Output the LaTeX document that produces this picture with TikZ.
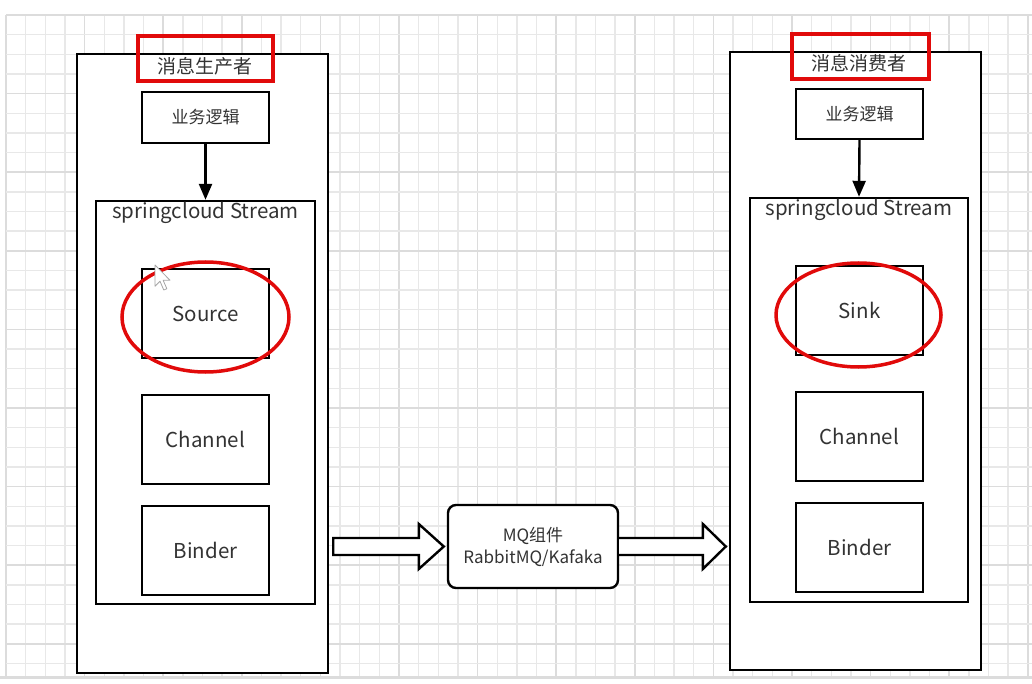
\documentclass[tikz,border=0pt]{standalone}
\usepackage{fontspec}
\setmainfont{Noto Sans CJK SC}
\usetikzlibrary{shapes.geometric,arrows.meta,calc}
\definecolor{gridminor}{HTML}{E8E8E8}
\definecolor{gridmajor}{HTML}{DCDCDC}
\definecolor{txt}{HTML}{333333}
\definecolor{mark}{HTML}{E10A0A}
\tikzset{
  box/.style={draw=black, line width=2.4pt, fill=white, inner sep=0pt},
  inbox/.style={box, minimum width=127pt, minimum height=89pt, text=txt, font=\fontsize{20.5}{24}\selectfont},
  logic/.style={box, minimum width=127pt, text=txt, font=\fontsize{17}{20}\selectfont},
  redmark/.style={draw=mark, line width=3.5pt, inner sep=0pt},
  oval/.style={ellipse, draw=mark, line width=3.5pt, inner sep=0pt},
  blockarrow/.style={draw=black, line width=2.4pt, fill=white, line join=miter},
  flow/.style={draw=black, line width=2.4pt, -{Triangle[length=16pt,width=13pt]}},
  gminor/.style={draw=gridminor, line width=1.4pt},
  gmajor/.style={draw=gridmajor, line width=1.6pt},
}
\begin{document}
\begin{tikzpicture}[x=1pt,y=-1pt]
\useasboundingbox (0,0) rectangle (1032,684);
\fill[white] (0,0) rectangle (1032,684);
% grid
\foreach \i in {0,...,52} {
  \pgfmathsetmacro\xx{6+19.65*\i}
  \pgfmathtruncatemacro\m{mod(\i,4)}
  \ifnum\m=0 \path[gmajor] (\xx,15) -- (\xx,676);
  \else \path[gminor] (\xx,15) -- (\xx,676); \fi
}
\foreach \j in {0,...,33} {
  \pgfmathsetmacro\yy{15+19.65*\j}
  \pgfmathtruncatemacro\m{mod(\j,4)}
  \ifnum\m=0 \path[gmajor] (6,\yy) -- (1032,\yy);
  \else \path[gminor] (6,\yy) -- (1032,\yy); \fi
}
\fill[white] (0,676) rectangle (1032,684);
\draw[gridmajor, line width=2.5pt] (0,677.5) -- (1032,677.5);

% ---------- producer ----------
\node[box, minimum width=251pt, minimum height=619pt] (outerL) at (202.5,363.5) {};
\node[text=txt, font=\fontsize{19}{22}\selectfont] (titleL) at (205,66) {消息生产者};
\node[redmark, minimum width=135pt, minimum height=45pt] (markL) at (205.5,58.5) {};
\node[logic, minimum height=51pt] (logicL) at (205.5,117.5) {业务逻辑};
\node[box, minimum width=219pt, minimum height=403pt] (scsL) at (205.5,402.5) {};
\node[anchor=north, text=txt, font=\fontsize{20.5}{24}\selectfont, inner sep=0pt] (scsLt) at ($(scsL.north)+(0,2)$) {springcloud Stream};
\node[inbox] (source) at (205.5,313.5) {Source};
\node[inbox] (channelL) at (205.5,439.5) {Channel};
\node[inbox] (binderL) at (205.5,550.5) {Binder};
\node[oval, minimum width=167pt, minimum height=110pt] (ovalL) at (205.5,317) {};
\draw[flow] (logicL.south) -- (scsL.north);

% cursor
\begin{scope}[shift={(155,265)}, scale=1.25]
\draw[gray!70, fill=white, line width=0.8pt, line join=round]
  (0,0) -- (0,17) -- (4,13) -- (7,20) -- (9.5,19) -- (6.5,12.2) -- (12,12.2) -- cycle;
\end{scope}

% ---------- consumer ----------
\node[box, minimum width=251pt, minimum height=618pt] (outerR) at (855.5,361) {};
\node[text=txt, font=\fontsize{19}{22}\selectfont] (titleR) at (859,63) {消息消费者};
\node[redmark, minimum width=137pt, minimum height=45pt] (markR) at (860.5,56.5) {};
\node[logic, minimum height=50pt] (logicR) at (859.5,114) {业务逻辑};
\node[box, minimum width=218pt, minimum height=404pt] (scsR) at (859,400) {};
\node[anchor=north, text=txt, font=\fontsize{20.5}{24}\selectfont, inner sep=0pt] (scsRt) at ($(scsR.north)+(0,2)$) {springcloud Stream};
\node[inbox] (sink) at (859.5,310.5) {Sink};
\node[inbox] (channelR) at (859.5,436.5) {Channel};
\node[inbox] (binderR) at (859.5,547.5) {Binder};
\node[oval, minimum width=165pt, minimum height=104pt] (ovalR) at (858.5,315) {};
\draw[flow] (logicR.south) -- (scsR.north);

% ---------- MQ ----------
\node[box, rounded corners=8pt, minimum width=170pt, minimum height=83pt, text=txt,
      font=\fontsize{17}{22}\selectfont, align=center] (mq) at (533,546.5) {MQ组件\\RabbitMQ/Kafaka};

% block arrows
\coordinate (a1s) at ($(outerL.east |- mq.west)+(4,0)$);
\coordinate (a1e) at ($(mq.west)+(-3,0)$);
\draw[blockarrow] ($(a1s)+(0,-8.5)$) -- ($(a1e)+(-25,-8.5)$) -- ($(a1e)+(-25,-22.5)$) -- (a1e)
  -- ($(a1e)+(-25,22.5)$) -- ($(a1e)+(-25,8.5)$) -- ($(a1s)+(0,8.5)$) -- cycle;
\coordinate (a2s) at (mq.east);
\coordinate (a2e) at ($(outerR.west |- mq.east)+(-3,0)$);
\draw[blockarrow] ($(a2s)+(0,-8.5)$) -- ($(a2e)+(-23,-8.5)$) -- ($(a2e)+(-23,-22.5)$) -- (a2e)
  -- ($(a2e)+(-23,22.5)$) -- ($(a2e)+(-23,8.5)$) -- ($(a2s)+(0,8.5)$);
\end{tikzpicture}
\end{document}
